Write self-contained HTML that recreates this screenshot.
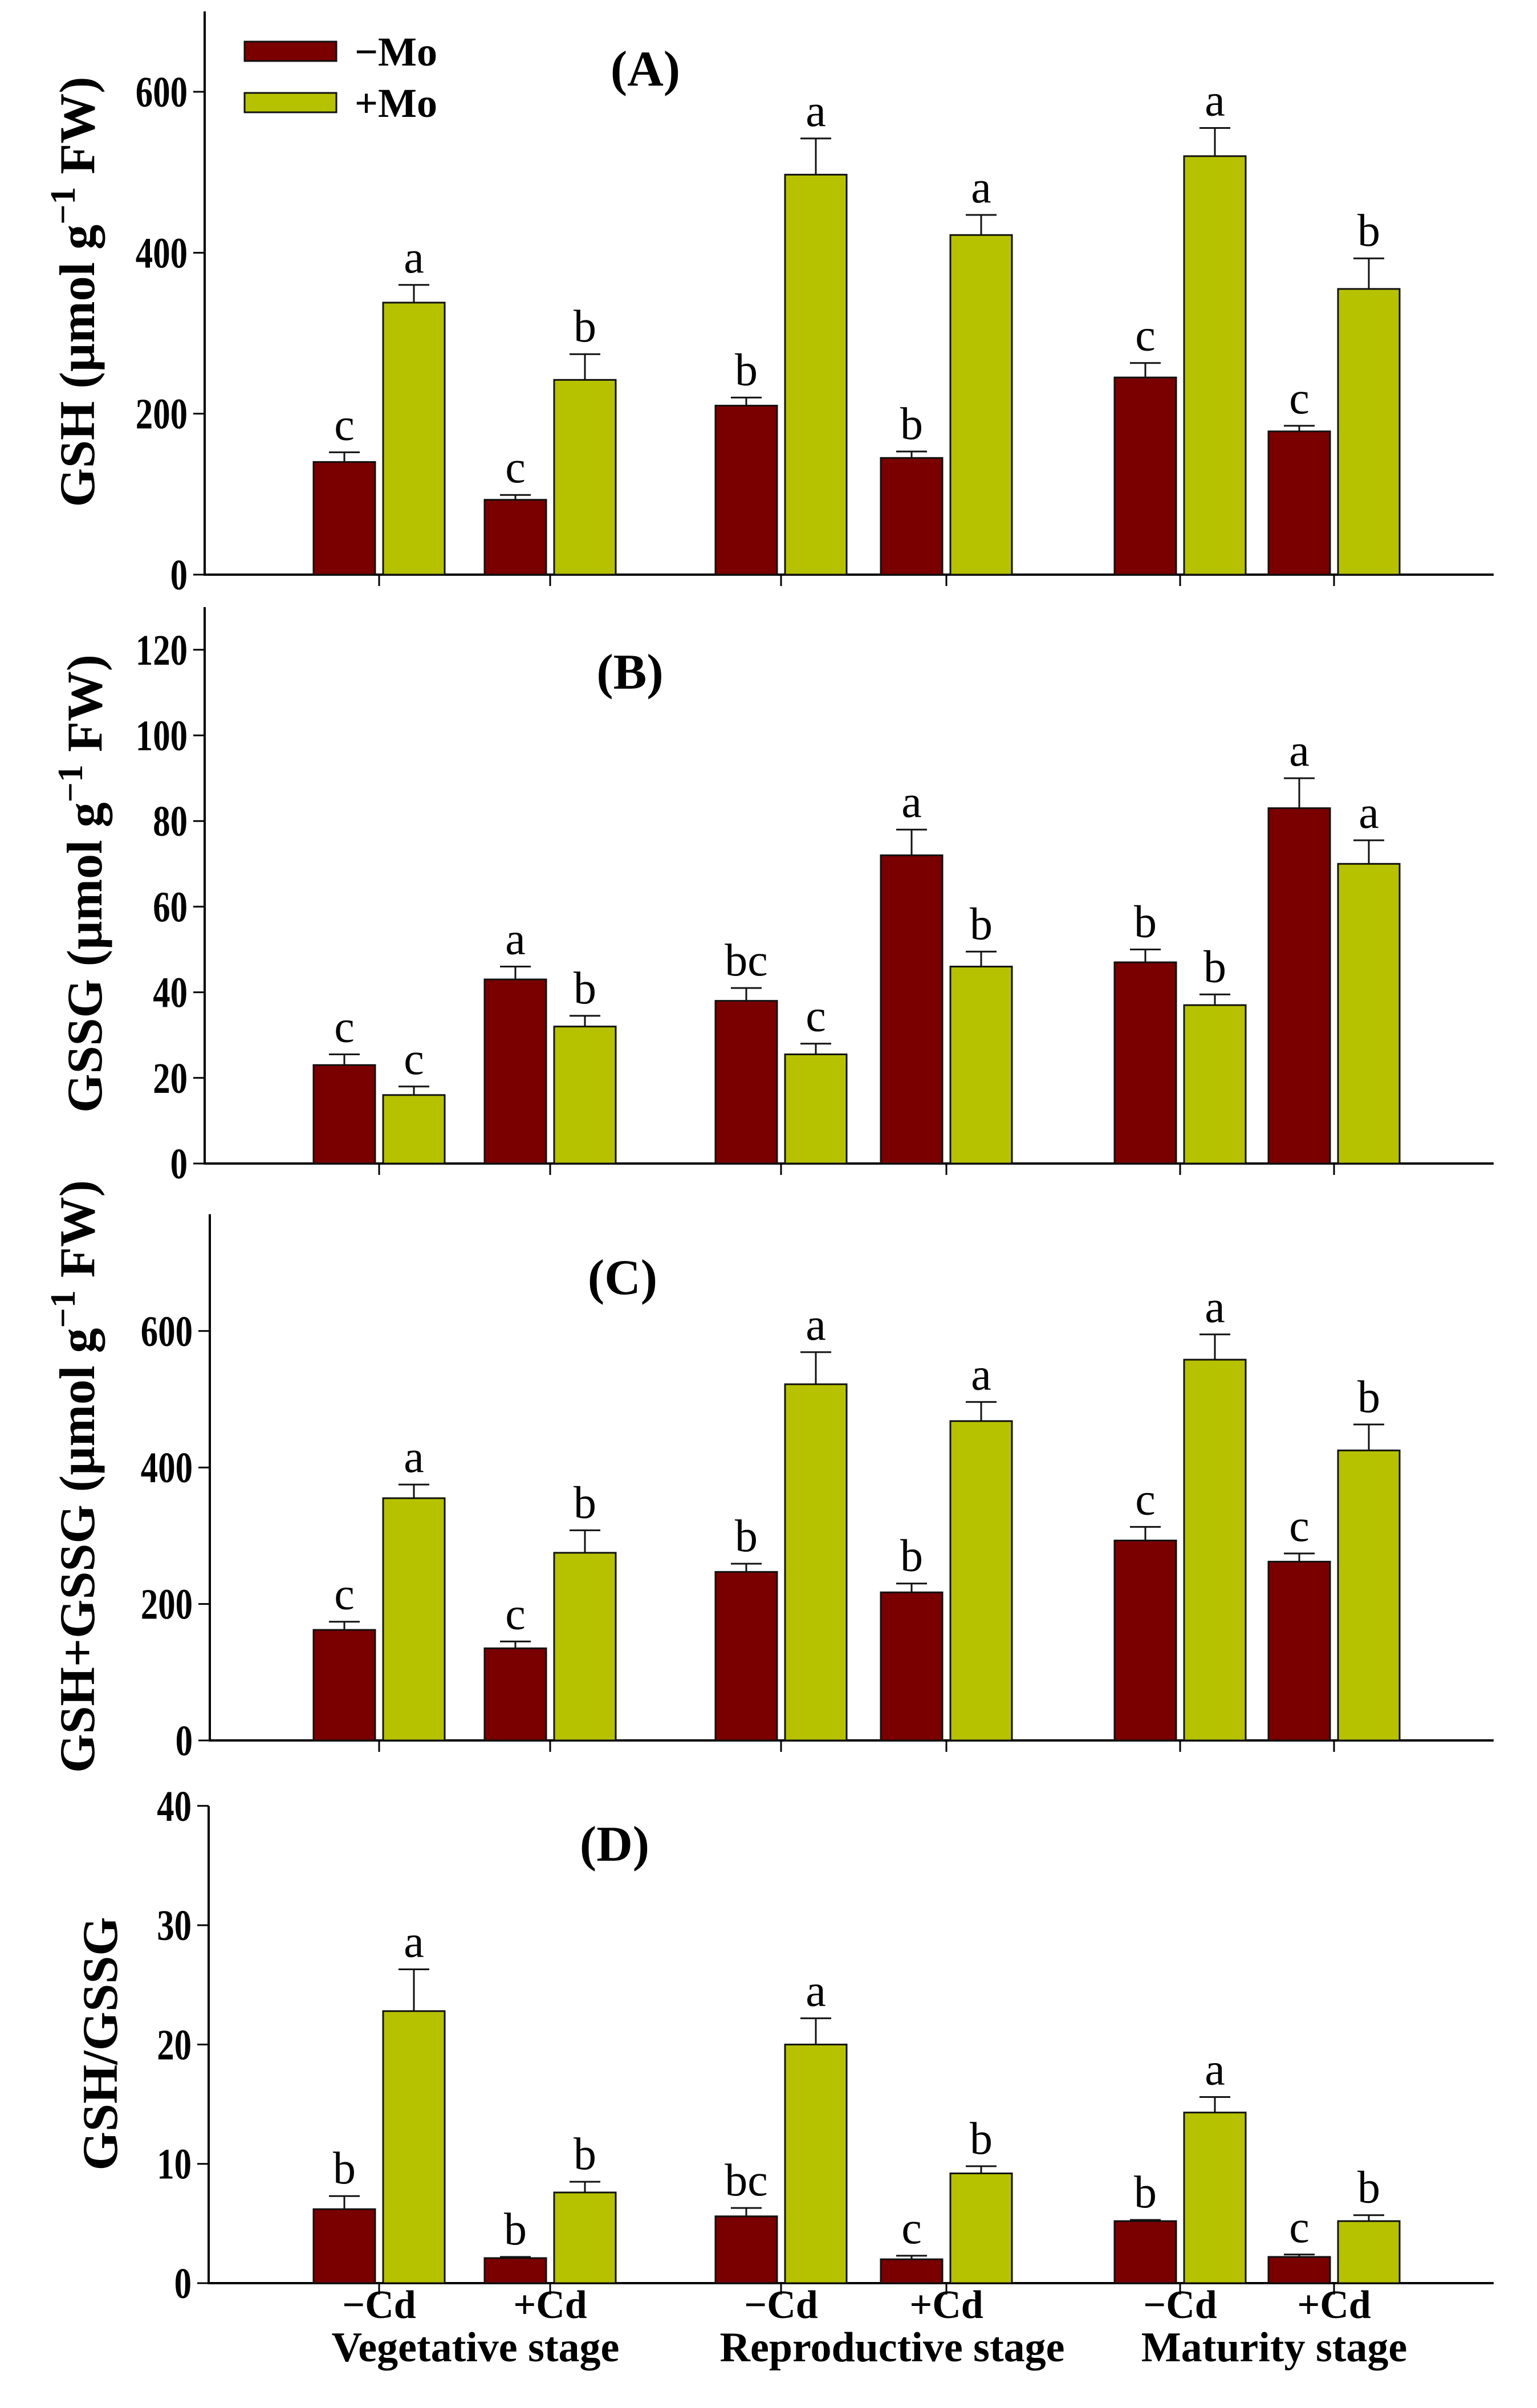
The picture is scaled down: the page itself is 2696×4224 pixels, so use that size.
<!DOCTYPE html>
<html><head><meta charset="utf-8">
<style>
html,body{margin:0;padding:0;background:#fff;}
svg{display:block;}
text{font-family:"Liberation Serif",serif;}
</style></head>
<body>
<svg id="chart" width="2696" height="4224" viewBox="0 0 2696 4224" xmlns="http://www.w3.org/2000/svg"></svg>
<script>
// categories
const groupCenters = [665, 965, 1370, 1660, 2070, 2340];
const cdLabels = ["−Cd","+Cd","−Cd","+Cd","−Cd","+Cd"];
const stageLabels = ["Vegetative stage","Reproductive stage","Maturity stage"];
const seriesNames = ["−Mo","+Mo"];
// Panel A GSH
const aMinus = [140, 93, 210, 145, 245, 178];
const aPlus = [338, 242, 497, 422, 520, 355];
const aMinusErr = [12, 6, 10, 8, 18, 7];
const aPlusErr = [22, 32, 45, 25, 35, 38];
const aMinusLet = ["c","c","b","b","c","c"];
const aPlusLet = ["a","b","a","a","a","b"];
const aTicks = [0, 200, 400, 600];
// Panel B GSSG
const bMinus = [23, 43, 38, 72, 47, 83];
const bPlus = [16, 32, 25.5, 46, 37, 70];
const bMinusErr = [2.5, 3, 3, 6, 3, 7];
const bPlusErr = [2, 2.5, 2.5, 3.5, 2.5, 5.5];
const bMinusLet = ["c","a","bc","a","b","a"];
const bPlusLet = ["c","b","c","b","b","a"];
const bTicks = [0, 20, 40, 60, 80, 100, 120];
// Panel C GSH+GSSG
const cMinus = [162, 135, 247, 217, 293, 262];
const cPlus = [355, 275, 522, 468, 558, 425];
const cMinusErr = [12, 10, 12, 13, 20, 12];
const cPlusErr = [20, 33, 47, 28, 37, 38];
const cMinusLet = ["c","c","b","b","c","c"];
const cPlusLet = ["a","b","a","a","a","b"];
const cTicks = [0, 200, 400, 600];
// Panel D GSH/GSSG
const dMinus = [6.2, 2.1, 5.6, 2.0, 5.2, 2.2];
const dPlus = [22.8, 7.6, 20, 9.2, 14.3, 5.2];
const dMinusErr = [1.1, 0.1, 0.7, 0.3, 0.1, 0.2];
const dPlusErr = [3.5, 0.9, 2.2, 0.6, 1.3, 0.5];
const dMinusLet = ["b","b","bc","c","b","c"];
const dPlusLet = ["a","b","a","b","a","b"];
const dTicks = [0, 10, 20, 30, 40];

const NS = "http://www.w3.org/2000/svg";
const svg = document.getElementById("chart");
const RED = "#7a0000", GREEN = "#b6c200";
function mk(tag, attrs, parent){
  const e = document.createElementNS(NS, tag);
  for (const k in attrs) e.setAttribute(k, attrs[k]);
  (parent || svg).appendChild(e);
  return e;
}

const panels = [
  {key:"a", minus:aMinus, plus:aPlus, me:aMinusErr, pe:aPlusErr, ml:aMinusLet, pl:aPlusLet, ticks:aTicks,
   x0:359, zero:1008, top:20, ppu:1.4117, label:"(A)", lx:1132, ly:150, title:"GSH (µmol g", tx:135, ty:512},
  {key:"b", minus:bMinus, plus:bPlus, me:bMinusErr, pe:bPlusErr, ml:bMinusLet, pl:bPlusLet, ticks:bTicks,
   x0:359, zero:2041, top:1065, ppu:7.51, label:"(B)", lx:1105, ly:1208, title:"GSSG (µmol g", tx:148, ty:1550},
  {key:"c", minus:cMinus, plus:cPlus, me:cMinusErr, pe:cPlusErr, ml:cMinusLet, pl:cPlusLet, ticks:cTicks,
   x0:368, zero:3053, top:2130, ppu:1.197, label:"(C)", lx:1092, ly:2270, title:"GSH+GSSG (µmol g", tx:135, ty:2590},
  {key:"d", minus:dMinus, plus:dPlus, me:dMinusErr, pe:dPlusErr, ml:dMinusLet, pl:dPlusLet, ticks:dTicks,
   x0:366, zero:4005, top:3168, ppu:20.93, label:"(D)", lx:1078, ly:3264, title:"GSH/GSSG", tx:175, ty:3585}
];

const BW = 108, GAP = 7, XEND = 2620;

panels.forEach(p => {
  const g = mk("g", {});
  
  
  const y = v => p.zero - v * p.ppu;

  const ya = mk("line", {x1:p.x0, y1:p.top, x2:p.x0, y2:p.zero, stroke:"#000", "stroke-width":4}, g);
  
  
  const xa = mk("line", {x1:p.x0-2, y1:p.zero, x2:XEND, y2:p.zero, stroke:"#000", "stroke-width":4}, g);
  
  

  p.ticks.forEach(t => {
    const ty = y(t);
    mk("line", {x1:p.x0-20, y1:ty, x2:p.x0, y2:ty, stroke:"#000", "stroke-width":3}, g);
    const ax = p.x0-30;
    const tl = mk("text", {x:ax, y:ty+26, "text-anchor":"end", "font-size":76, "font-weight":"bold",
      transform:`translate(${ax},0) scale(0.8,1) translate(${-ax},0)`}, g);
    tl.textContent = t;
    
    
  });
  groupCenters.forEach(c => {
    mk("line", {x1:c, y1:p.zero, x2:c, y2:p.zero+20, stroke:"#000", "stroke-width":3}, g);
  });

  groupCenters.forEach((c, i) => {
    [[p.minus, p.me, p.ml, RED, c-GAP-BW, "minus-mo"], [p.plus, p.pe, p.pl, GREEN, c+GAP, "plus-mo"]].forEach(s => {
      const v = s[0][i], e = s[1][i], bx = s[4];
      const r = mk("rect", {x:bx, y:y(v), width:BW, height:p.zero - y(v), fill:s[3], stroke:"#111", "stroke-width":3}, g);
      
      
      const mx = bx + BW/2, et = y(v + e);
      mk("line", {x1:mx, y1:y(v), x2:mx, y2:et, stroke:"#111", "stroke-width":3}, g);
      mk("line", {x1:mx-27, y1:et, x2:mx+27, y2:et, stroke:"#111", "stroke-width":3}, g);
      const lt = mk("text", {x:mx, y:et-22, "text-anchor":"middle", "font-size":80}, g);
      lt.textContent = s[2][i];
      
      
    });
  });

  const pl = mk("text", {x:p.lx, y:p.ly, "text-anchor":"middle", "font-size":88, "font-weight":"bold"}, g);
  pl.textContent = p.label;
  
  

  const yt = mk("text", {x:0, y:0, "text-anchor":"middle", "font-size":88, "font-weight":"bold",
    transform:`translate(${p.tx+30},${p.ty}) rotate(-90)`}, g);
  
  
  if (p.key === "d") {
    yt.textContent = p.title;
  } else {
    yt.appendChild(document.createTextNode(p.title));
    const sup = document.createElementNS(NS, "tspan");
    sup.setAttribute("dy", -34); sup.setAttribute("font-size", 62);
    sup.textContent = "−1";
    yt.appendChild(sup);
    const rest = document.createElementNS(NS, "tspan");
    rest.setAttribute("dy", 34);
    rest.textContent = " FW)";
    yt.appendChild(rest);
  }
});

const lg = mk("g", {});


[[RED, 73, seriesNames[0]], [GREEN, 163, seriesNames[1]]].forEach((s, i) => {
  const r = mk("rect", {x:429, y:s[1], width:161, height:34, fill:s[0], stroke:"#111", "stroke-width":3}, lg);
  
  
  const t = mk("text", {x:622, y:s[1]+42, "font-size":72, "font-weight":"bold"}, lg);
  t.textContent = s[2];
  
  
});

groupCenters.forEach((c, i) => {
  const t = mk("text", {x:c, y:4066, "text-anchor":"middle", "font-size":70, "font-weight":"bold"});
  t.textContent = cdLabels[i];
  
  
});
const stageX = [834, 1565, 2235];
stageLabels.forEach((s, i) => {
  const t = mk("text", {x:stageX[i], y:4142, "text-anchor":"middle", "font-size":74, "font-weight":"bold"});
  t.textContent = s;
  
  
});
</script>
</body></html>
